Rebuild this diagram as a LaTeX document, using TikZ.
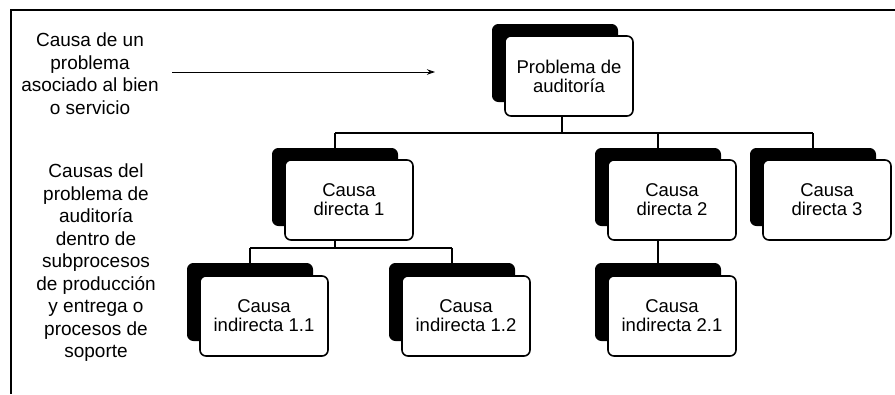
\documentclass[tikz,border=0pt]{standalone}
\usepackage{fontspec}
\setmainfont{Liberation Sans}
\usetikzlibrary{arrows.meta,calc}
\begin{document}
\begin{tikzpicture}[x=1pt,y=-1pt,
  card/.style={draw=black,line width=1.6pt,fill=white,rounded corners=6pt,
    minimum width=128pt,minimum height=80pt,align=center,inner sep=0pt,
    font=\fontsize{18.5}{19}\selectfont},
  cardback/.style={fill=black,draw=black,line width=1pt,rounded corners=6pt,
    minimum width=125pt,minimum height=77pt,inner sep=0pt},
  conn/.style={line width=1.6pt},
  side/.style={align=center,anchor=north,inner sep=0pt,
    font=\fontsize{19}{22.5}\selectfont},
  frameline/.style={line width=1.2pt}]

\useasboundingbox (0,0) rectangle (895,394);

% outer frame (top and left sides)
\draw[frameline] (895,10) -- (11,10) -- (11,394);

% side captions
\node[side] (lab1) at (90,33) {Causa de un\\problema\\asociado al bien\\o servicio};
\node[side] (lab2) at (96,164) {Causas del\\problema de\\auditoría\\dentro de\\subprocesos\\de producción\\y entrega o\\procesos de\\soporte};

% arrow pointing to the audit problem
\coordinate (arrS) at (172,72);
\coordinate (arrE) at (435,72);
\draw[line width=0.9pt,-{Stealth[length=8pt,width=5.5pt]}] (arrS) -- (arrE);

% shadow cards
\node[cardback] (topb) at (555,63) {};
\node[cardback] (d1b)  at (335,187) {};
\node[cardback] (d2b)  at (658,187) {};
\node[cardback] (d3b)  at (813,187) {};
\node[cardback] (i11b) at (250,302) {};
\node[cardback] (i12b) at (452,302) {};
\node[cardback] (i21b) at (658,302) {};

% front cards
\node[card] (topf) at (569,76)  {Problema de\\auditoría};
\node[card] (d1f)  at (349,200) {Causa\\directa 1};
\node[card] (d2f)  at (672,200) {Causa\\directa 2};
\node[card] (d3f)  at (827,200) {Causa\\directa 3};
\node[card] (i11f) at (264,316) {Causa\\indirecta 1.1};
\node[card] (i12f) at (466,316) {Causa\\indirecta 1.2};
\node[card] (i21f) at (672,316) {Causa\\indirecta 2.1};

% tree connectors
\coordinate (bus1) at (0,133);
\coordinate (bus2) at (0,248);
\coordinate (topj) at ($(topf.south)+(-7,0)$);
\draw[conn] (topj) -- (topj |- bus1);
\draw[conn] (d1b.north |- bus1) -- (d3b.north |- bus1);
\draw[conn] (d1b.north |- bus1) -- (d1b.north);
\draw[conn] (d2b.north |- bus1) -- (d2b.north);
\draw[conn] (d3b.north |- bus1) -- (d3b.north);

\draw[conn] (d1b.north |- d1f.south) -- (d1b.north |- bus2);
\draw[conn] (i11b.north |- bus2) -- (i12b.north |- bus2);
\draw[conn] (i11b.north |- bus2) -- (i11b.north);
\draw[conn] (i12b.north |- bus2) -- (i12b.north);

\draw[conn] (d2b.north |- d2f.south) -- (i21b.north);
\end{tikzpicture}
\end{document}
